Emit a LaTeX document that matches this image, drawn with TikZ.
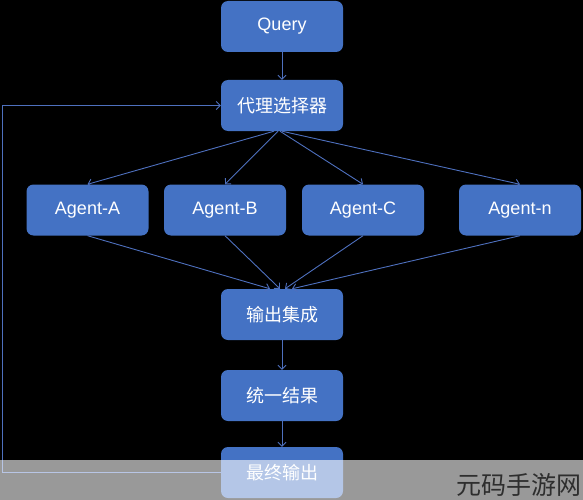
\documentclass[tikz,border=0pt]{standalone}
\usepackage{fontspec}
\setmainfont{Liberation Sans}
\newfontfamily\cjk{Noto Sans CJK SC}
\usetikzlibrary{arrows.meta}
\definecolor{boxblue}{HTML}{4472C4}
\definecolor{lineblue}{RGB}{78,112,190}
\definecolor{wmgray}{HTML}{2E2E2E}
\tikzset{
  box/.style={fill=boxblue, rounded corners=7pt, minimum width=122pt, minimum height=51pt,
    text=white, inner sep=0pt, font=\fontsize{18}{21}\selectfont},
  cbox/.style={box, font=\cjk\fontsize{18}{21}\selectfont},
  conn/.style={draw=lineblue, line width=0.9pt, -{Straight Barb[length=4pt,width=8pt]}},
}
\begin{document}
\begin{tikzpicture}[x=1pt,y=-1pt]
\fill[black] (0,0) rectangle (583,500);
\useasboundingbox (0,0) rectangle (583,500);

\node[box]  (query) at (282,26.5)  {Query};
\node[cbox] (sel)   at (282,105.5) {代理选择器};
\node[box]  (a)     at (87.5,210)  {Agent-A};
\node[box]  (b)     at (225,210)   {Agent-B};
\node[box]  (c)     at (363,210)   {Agent-C};
\node[box]  (n)     at (520,210)   {Agent-n};
\node[cbox] (int)   at (282,314.5) {输出集成};
\node[cbox] (uni)   at (282,395.5) {统一结果};
\node[cbox] (fin)   at (282,472.5) {最终输出};
\coordinate (lb) at (2,472.5);

\draw[conn] (query) -- (sel);
\draw[conn] ([xshift=-8pt]sel.south) -- (a.north);
\draw[conn] ([xshift=-4pt]sel.south) -- (b.north);
\draw[conn] ([xshift=-2pt]sel.south) -- (c.north);
\draw[conn] (sel.south) -- (n.north);
\draw[conn] (a.south) -- ([xshift=-12pt]int.north);
\draw[conn] (b.south) -- ([xshift=-2pt]int.north);
\draw[conn] (c.south) -- ([xshift=3pt]int.north);
\draw[conn] (n.south) -- ([xshift=10pt]int.north);
\draw[conn] (int) -- (uni);
\draw[conn] (uni) -- (fin);
\draw[conn] (fin.west) -- (lb) |- (sel.west);

\fill[white, opacity=0.6] (0,460) rectangle (583,500);
\node[font=\cjk\fontsize{25}{28}\selectfont, text=wmgray, anchor=east, inner sep=0pt] (wm) at (582,485) {元码手游网};
\end{tikzpicture}
\end{document}
